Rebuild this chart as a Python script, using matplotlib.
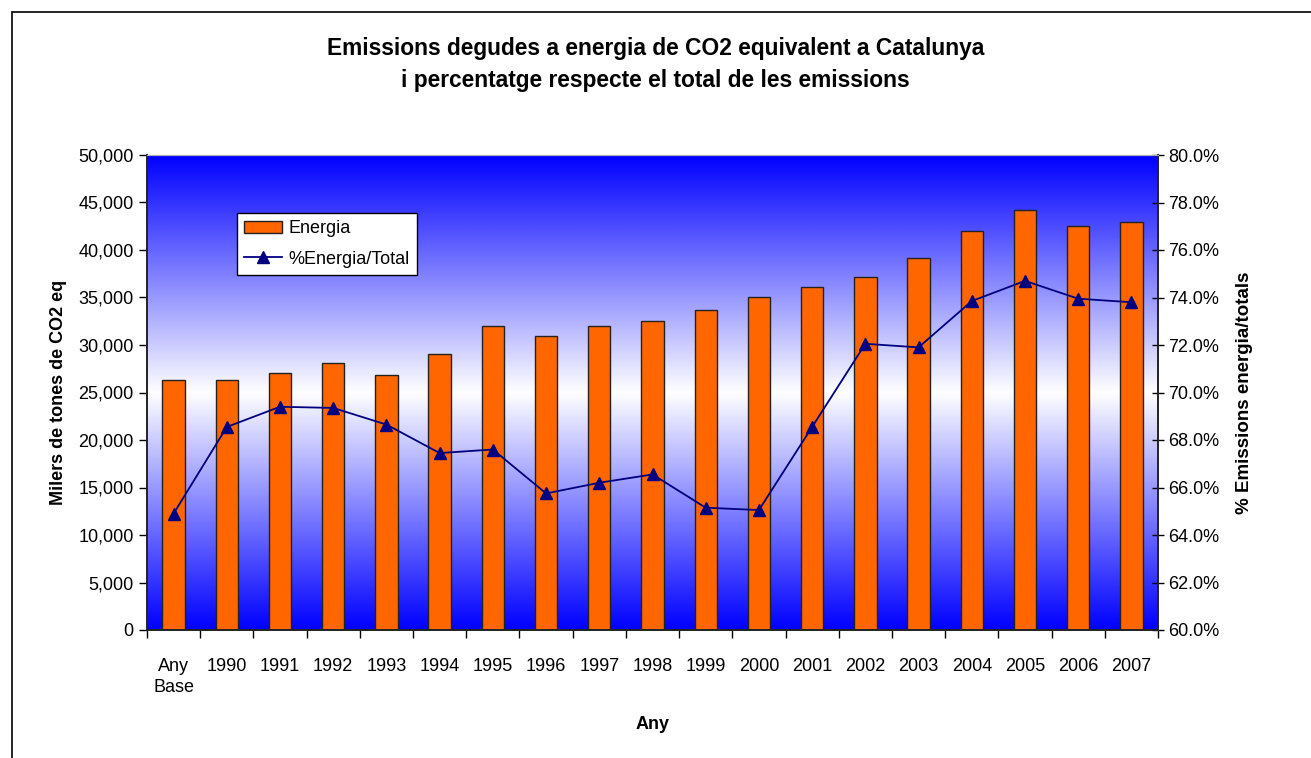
import numpy as np
import matplotlib.pyplot as plt
from matplotlib.colors import LinearSegmentedColormap
from matplotlib.ticker import FuncFormatter, MultipleLocator
from matplotlib.patches import Rectangle

plt.rcParams['font.family'] = ['Liberation Sans', 'DejaVu Sans']

# data
anys = ['Any\nBase', '1990', '1991', '1992', '1993', '1994', '1995', '1996', '1997',
        '1998', '1999', '2000', '2001', '2002', '2003', '2004', '2005', '2006', '2007']
energia = [26300, 26300, 27000, 28100, 26850, 29050, 32000, 30950, 32000,
           32500, 33700, 35050, 36100, 37150, 39150, 42000, 44200, 42550, 42950]
pct_energia = [64.9, 68.55, 69.4, 69.35, 68.65, 67.45, 67.6, 65.75, 66.2,
               66.55, 65.15, 65.05, 68.55, 72.05, 71.9, 73.85, 74.7, 73.95, 73.8]

fig = plt.figure(figsize=(13.11, 7.58), dpi=100)

# outer chart border
fig.patches.append(Rectangle((12 / 1311, -0.01), 1.1, 1 - 12 / 758 + 0.01,
                             transform=fig.transFigure, fill=False,
                             edgecolor='black', linewidth=1.2))

ax = fig.add_axes([147 / 1311, 1 - 630 / 758, (1158 - 147) / 1311, (630 - 155) / 758])
x = np.arange(len(anys))

# blue - white - blue background gradient
cmap = LinearSegmentedColormap.from_list('bg', ['#0000ff', '#ffffff', '#0000ff'])
grad = np.linspace(0, 1, 256).reshape(-1, 1)
ax.imshow(grad, cmap=cmap, aspect='auto', extent=[-0.5, len(anys) - 0.5, 0, 50000],
          zorder=0, interpolation='bicubic')

bars = ax.bar(x, energia, width=0.42, color='#ff6600', edgecolor='#222222',
              linewidth=1.0, zorder=2, label='Energia')
ax.set_xlim(-0.5, len(anys) - 0.5)
ax.set_ylim(0, 50000)
ax.yaxis.set_major_locator(MultipleLocator(5000))
ax.yaxis.set_major_formatter(FuncFormatter(lambda v, p: f'{v:,.0f}'))
ax.set_xticks(x)
ax.set_xticklabels(anys, fontsize=13, va='top', linespacing=1.35)
ax.set_xticks(np.arange(-0.5, len(anys)), minor=True)
ax.tick_params(axis='x', which='major', length=0, pad=20)
ax.tick_params(axis='x', which='minor', length=6, width=1, direction='out')
ax.tick_params(axis='y', labelsize=13, length=6, width=1, direction='out')
ax.set_ylabel('Milers de tones de CO2 eq', fontsize=13, fontweight='bold', labelpad=8)
ax.set_xlabel('Any', fontsize=13, fontweight='bold', labelpad=14)
for s in ['left', 'bottom', 'right']:
    ax.spines[s].set_color('#222222')
    ax.spines[s].set_linewidth(1.2)
ax.spines['top'].set_color('#b0b0b0')

ax2 = ax.twinx()
line, = ax2.plot(x, pct_energia, color='#000080', linewidth=1.3, marker='^',
                 markersize=8, markerfacecolor='#000080', markeredgecolor='#000080',
                 zorder=3, label='%Energia/Total')
ax2.set_ylim(60, 80)
ax2.yaxis.set_major_locator(MultipleLocator(2))
ax2.yaxis.set_major_formatter(FuncFormatter(lambda v, p: f'{v:.1f}%'))
ax2.tick_params(axis='y', labelsize=13, length=8, width=1, direction='inout')
ax2.set_ylabel('% Emissions energia/totals', fontsize=13.5, fontweight='bold', labelpad=12)
for s in ['left', 'bottom', 'right']:
    ax2.spines[s].set_color('#222222')
    ax2.spines[s].set_linewidth(1.2)
ax2.spines['top'].set_color('#b0b0b0')

leg = ax.legend([bars, line], ['Energia', '%Energia/Total'], loc='upper left',
                bbox_to_anchor=(0.089, 0.878), fontsize=13, frameon=True,
                fancybox=False, edgecolor='black', framealpha=1, borderpad=0.4,
                handlelength=2.1, handletextpad=0.35, labelspacing=0.75,
                borderaxespad=0)
leg.get_frame().set_linewidth(1.0)
leg.set_zorder(5)

fig.text(0.5, 1 - 48 / 758, 'Emissions degudes a energia de CO2 equivalent a Catalunya',
         ha='center', va='center', fontsize=16.4, fontweight='bold')
fig.text(0.5, 1 - 80 / 758, 'i percentatge respecte el total de les emissions',
         ha='center', va='center', fontsize=16.4, fontweight='bold')

fig.savefig('out.png', dpi=100)
